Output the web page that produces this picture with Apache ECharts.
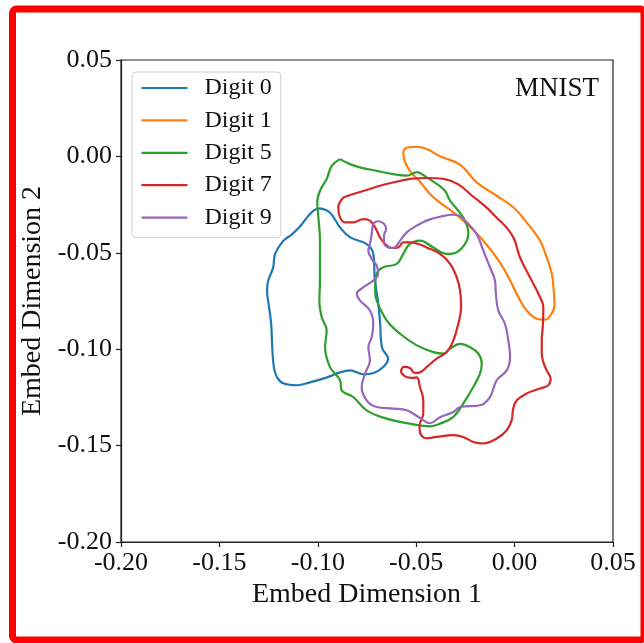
<!DOCTYPE html>
<html>
<head>
<meta charset="utf-8">
<script src="https://cdn.jsdelivr.net/npm/echarts@6/dist/echarts.min.js"></script>
<style>
  html, body { margin: 0; padding: 0; background: #fff; }
  #chart { width: 644px; height: 643px; }
</style>
</head>
<body>
<div id="chart"></div>
<script>
// Closed 2-D embedding contours for each digit class, as [dim1, dim2] points.
const digitNames = ['Digit 0', 'Digit 1', 'Digit 5', 'Digit 7', 'Digit 9'];
const digitColors = ['#1f77b4', '#ff7f0e', '#2ca02c', '#d62728', '#9467bd'];

const digit0 = [
  [-0.0989,-0.0270],[-0.0939,-0.0291],[-0.0887,-0.0368],[-0.0837,-0.0419],[-0.0751,-0.0455],
  [-0.0718,-0.0506],[-0.0710,-0.0640],[-0.0695,-0.0747],[-0.0684,-0.0853],[-0.0674,-0.0991],
  [-0.0643,-0.1049],[-0.0669,-0.1094],[-0.0720,-0.1125],[-0.0770,-0.1130],[-0.0836,-0.1110],
  [-0.0887,-0.1120],[-0.0953,-0.1146],[-0.1040,-0.1172],[-0.1105,-0.1187],[-0.1176,-0.1177],
  [-0.1207,-0.1146],[-0.1223,-0.1094],[-0.1231,-0.1000],[-0.1237,-0.0868],[-0.1248,-0.0779],
  [-0.1258,-0.0694],[-0.1252,-0.0645],[-0.1227,-0.0577],[-0.1217,-0.0506],[-0.1175,-0.0438],
  [-0.1133,-0.0406],[-0.1091,-0.0364],[-0.1050,-0.0311],[-0.1018,-0.0279],[-0.0989,-0.0270]
];

const digit1 = [
  [-0.0548,0.0046],[-0.0497,0.0050],[-0.0447,0.0038],[-0.0379,0.0001],[-0.0277,-0.0043],
  [-0.0193,-0.0135],[-0.0091,-0.0204],[-0.0007,-0.0264],[0.0061,-0.0342],[0.0129,-0.0437],
  [0.0163,-0.0523],[0.0189,-0.0609],[0.0199,-0.0700],[0.0203,-0.0770],[0.0186,-0.0820],
  [0.0154,-0.0847],[0.0112,-0.0842],[0.0061,-0.0799],[0.0019,-0.0730],[-0.0023,-0.0644],
  [-0.0074,-0.0551],[-0.0159,-0.0437],[-0.0261,-0.0333],[-0.0311,-0.0290],[-0.0379,-0.0240],
  [-0.0430,-0.0195],[-0.0481,-0.0131],[-0.0532,-0.0075],[-0.0562,-0.0012],[-0.0565,0.0024],
  [-0.0548,0.0046]
];

const digit5 = [
  [-0.0887,-0.0014],[-0.0836,-0.0040],[-0.0786,-0.0057],[-0.0701,-0.0075],[-0.0616,-0.0092],
  [-0.0548,-0.0100],[-0.0497,-0.0082],[-0.0447,-0.0109],[-0.0396,-0.0143],[-0.0354,-0.0178],
  [-0.0328,-0.0230],[-0.0286,-0.0282],[-0.0252,-0.0333],[-0.0235,-0.0402],[-0.0252,-0.0454],
  [-0.0294,-0.0497],[-0.0345,-0.0506],[-0.0413,-0.0472],[-0.0481,-0.0437],[-0.0532,-0.0454],
  [-0.0566,-0.0506],[-0.0599,-0.0557],[-0.0667,-0.0575],[-0.0701,-0.0609],[-0.0709,-0.0696],
  [-0.0701,-0.0747],[-0.0650,-0.0851],[-0.0582,-0.0920],[-0.0497,-0.0980],[-0.0413,-0.1015],
  [-0.0362,-0.1023],[-0.0328,-0.0997],[-0.0277,-0.0972],[-0.0227,-0.0989],[-0.0184,-0.1023],
  [-0.0167,-0.1075],[-0.0176,-0.1127],[-0.0210,-0.1196],[-0.0261,-0.1282],[-0.0311,-0.1351],
  [-0.0379,-0.1386],[-0.0430,-0.1400],[-0.0532,-0.1386],[-0.0650,-0.1360],[-0.0752,-0.1317],
  [-0.0820,-0.1248],[-0.0879,-0.1213],[-0.0887,-0.1161],[-0.0938,-0.1093],[-0.0963,-0.0989],
  [-0.0955,-0.0903],[-0.0980,-0.0834],[-0.0992,-0.0747],[-0.0989,-0.0644],[-0.0989,-0.0437],
  [-0.0997,-0.0316],[-0.1003,-0.0239],[-0.0989,-0.0178],[-0.0955,-0.0117],[-0.0929,-0.0049],
  [-0.0887,-0.0014]
];

const digit7 = [
  [-0.0870,-0.0213],[-0.0820,-0.0195],[-0.0752,-0.0174],[-0.0684,-0.0152],[-0.0616,-0.0135],
  [-0.0532,-0.0117],[-0.0447,-0.0112],[-0.0362,-0.0117],[-0.0288,-0.0144],[-0.0216,-0.0204],
  [-0.0142,-0.0266],[-0.0091,-0.0318],[-0.0040,-0.0370],[-0.0003,-0.0427],[0.0027,-0.0523],
  [0.0078,-0.0627],[0.0122,-0.0715],[0.0146,-0.0785],[0.0143,-0.0886],
  [0.0138,-0.0954],[0.0138,-0.1023],[0.0146,-0.1067],[0.0163,-0.1110],[0.0183,-0.1153],
  [0.0171,-0.1187],[0.0129,-0.1204],[0.0061,-0.1230],[0.0011,-0.1265],[-0.0007,-0.1308],
  [-0.0015,-0.1369],[-0.0040,-0.1420],[-0.0091,-0.1463],[-0.0159,-0.1489],[-0.0210,-0.1481],
  [-0.0261,-0.1455],[-0.0311,-0.1446],[-0.0396,-0.1455],[-0.0450,-0.1462],[-0.0481,-0.1431],
  [-0.0483,-0.1394],[-0.0464,-0.1334],[-0.0464,-0.1265],[-0.0481,-0.1196],[-0.0497,-0.1146],
  [-0.0521,-0.1149],[-0.0557,-0.1141],[-0.0577,-0.1115],[-0.0562,-0.1092],[-0.0532,-0.1097],
  [-0.0509,-0.1123],[-0.0481,-0.1120],[-0.0447,-0.1093],[-0.0396,-0.1049],[-0.0345,-0.1015],
  [-0.0311,-0.0954],[-0.0286,-0.0868],[-0.0272,-0.0782],[-0.0277,-0.0696],[-0.0294,-0.0627],
  [-0.0328,-0.0557],[-0.0379,-0.0506],[-0.0447,-0.0472],[-0.0489,-0.0454],[-0.0532,-0.0446],
  [-0.0566,-0.0446],[-0.0591,-0.0472],[-0.0625,-0.0475],[-0.0659,-0.0454],[-0.0684,-0.0420],
  [-0.0709,-0.0368],[-0.0735,-0.0333],[-0.0769,-0.0325],[-0.0820,-0.0342],[-0.0862,-0.0342],
  [-0.0887,-0.0316],[-0.0896,-0.0264],[-0.0870,-0.0213]
];

const digit9 = [
  [-0.0694,-0.0335],[-0.0664,-0.0349],[-0.0653,-0.0377],[-0.0664,-0.0411],[-0.0664,-0.0442],
  [-0.0642,-0.0472],[-0.0616,-0.0475],[-0.0582,-0.0437],[-0.0548,-0.0394],[-0.0497,-0.0359],
  [-0.0447,-0.0333],[-0.0379,-0.0313],[-0.0311,-0.0302],[-0.0277,-0.0310],[-0.0243,-0.0342],
  [-0.0193,-0.0402],[-0.0159,-0.0489],[-0.0125,-0.0575],[-0.0100,-0.0644],[-0.0095,-0.0713],
  [-0.0083,-0.0799],[-0.0049,-0.0868],[-0.0032,-0.0954],[-0.0023,-0.1041],[-0.0040,-0.1110],
  [-0.0091,-0.1161],[-0.0125,-0.1248],[-0.0176,-0.1291],[-0.0277,-0.1300],[-0.0311,-0.1326],
  [-0.0379,-0.1353],[-0.0430,-0.1384],[-0.0481,-0.1356],[-0.0548,-0.1317],[-0.0616,-0.1308],
  [-0.0701,-0.1300],[-0.0752,-0.1265],[-0.0777,-0.1196],[-0.0760,-0.1127],[-0.0735,-0.1058],
  [-0.0743,-0.0989],[-0.0726,-0.0937],[-0.0718,-0.0868],[-0.0735,-0.0799],[-0.0786,-0.0747],
  [-0.0802,-0.0713],[-0.0769,-0.0679],[-0.0718,-0.0644],[-0.0693,-0.0609],[-0.0701,-0.0566],
  [-0.0726,-0.0532],[-0.0743,-0.0489],[-0.0735,-0.0454],[-0.0726,-0.0402],[-0.0718,-0.0350],
  [-0.0694,-0.0335]
];

const contours = [digit0, digit1, digit5, digit7, digit9];

// Axis ranges and tick step shared by both dimensions
const axisMin = -0.20;
const axisMax = 0.05;
const tickStep = 0.05;
const xTitle = 'Embed Dimension 1';
const yTitle = 'Embed Dimension 2';
const panelLabel = 'MNIST';

const serif = '"Liberation Serif", "DejaVu Serif", serif';
const fmt = v => (Math.abs(v) < 1e-9 ? 0 : v).toFixed(2);

const chart = echarts.init(document.getElementById('chart'), null, { renderer: 'canvas' });

const axisCommon = {
  type: 'value',
  min: axisMin,
  max: axisMax,
  interval: tickStep,
  splitLine: { show: false },
  axisLine: { show: true, onZero: false, lineStyle: { color: '#222', width: 1.2 } },
  axisTick: { show: true, inside: false, length: 5, lineStyle: { color: '#222', width: 1.2 } },
  nameLocation: 'middle',
  nameTextStyle: { fontFamily: serif, fontSize: 28, color: '#111' }
};

chart.setOption({
  animation: false,
  backgroundColor: '#fff',
  grid: {
    left: 121, top: 60, width: 492, height: 482,
    show: true, borderColor: '#222', borderWidth: 1.2, backgroundColor: 'transparent'
  },
  title: {
    text: panelLabel,
    right: 40, top: 70,
    textStyle: { fontFamily: serif, fontSize: 27, fontWeight: 'normal', color: '#111' }
  },
  legend: {
    orient: 'vertical',
    left: 132, top: 72,
    data: digitNames.map(n => ({ name: n, icon: 'rect' })),
    itemWidth: 46, itemHeight: 2.2, itemGap: 8.4,
    padding: [4, 9, 8, 9.5],
    backgroundColor: '#fff',
    borderColor: '#d0d0d0', borderWidth: 1, borderRadius: 4,
    textStyle: { fontFamily: serif, fontSize: 24, color: '#111', lineHeight: 24, padding: [0, 0, 0, 12] }
  },
  xAxis: Object.assign({}, axisCommon, {
    name: xTitle,
    nameGap: 34,
    axisLabel: { fontFamily: serif, fontSize: 26, color: '#111', margin: 8, formatter: fmt }
  }),
  yAxis: Object.assign({}, axisCommon, {
    name: yTitle,
    nameGap: 70,
    axisLabel: { fontFamily: serif, fontSize: 26, color: '#111', margin: 9, formatter: fmt }
  }),
  series: contours.map((pts, i) => ({
    name: digitNames[i],
    type: 'line',
    data: pts,
    smooth: 0.4,
    showSymbol: false,
    symbol: 'none',
    lineStyle: { color: digitColors[i], width: 2.2 },
    itemStyle: { color: digitColors[i] },
    z: 2 + i
  })),
  graphic: [{
    type: 'rect',
    silent: true,
    shape: { x: 12.5, y: 9, width: 631.5, height: 631, r: 4 },
    style: { fill: 'none', stroke: '#ff0000', lineWidth: 7 },
    z: 100
  }]
});
</script>
</body>
</html>
